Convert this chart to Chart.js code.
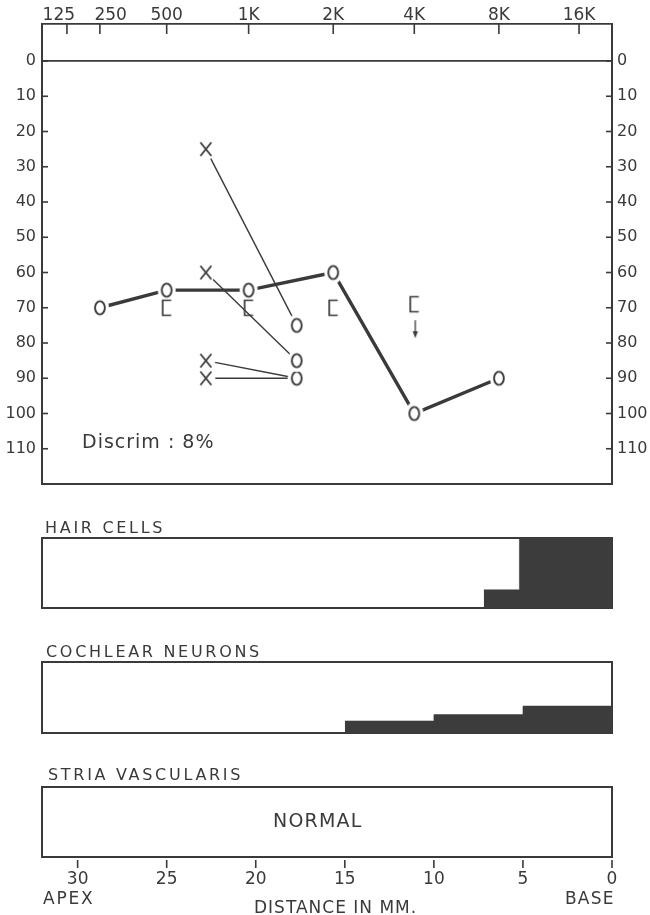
<!DOCTYPE html>
<html><head><meta charset="utf-8">
<script src="https://cdn.jsdelivr.net/npm/chart.js@4.4.1/dist/chart.umd.min.js"></script>
<style>
html,body{margin:0;padding:0;background:#fff;}
#wrap{position:relative;width:650px;height:915px;overflow:hidden;background:#fff;}
canvas{position:absolute;left:0;}
</style></head><body>
<div id="wrap">
<canvas id="audio" style="top:0px" width="650" height="500"></canvas>
<canvas id="hair" style="top:508px" width="650" height="104"></canvas>
<canvas id="neuron" style="top:632px" width="650" height="104"></canvas>
<canvas id="stria" style="top:757px" width="650" height="158"></canvas>
</div>
<script>
// ---------------- data ----------------
const freqLabels   = ['125','250','500','1K','2K','4K','8K','16K'];
const freqPlaceMM  = [30.6, 28.75, 25.0, 20.4, 15.65, 11.1, 6.35, 1.85]; // cochlear place (mm from base) of each frequency tick
const dbTicks      = [0,10,20,30,40,50,60,70,80,90,100,110];

const airFreqs     = ['250','500','1K','2K','4K','8K'];
const airDB        = [70, 65, 65, 60, 100, 90];
const boneFreqs    = ['500','1K','2K'];
const boneDB       = [70, 70, 70];
const boneNRFreqs  = ['4K'];
const boneNRDB     = [69];

const balanceRefPlaceMM  = 22.8;   // X column
const balanceTestPlaceMM = 17.7;   // O column
const balanceRefDB  = [25, 60, 85, 90];
const balanceTestDB = [75, 85, 90, 90];
const discrimText   = 'Discrim : 8%';

const distTicks     = [30, 25, 20, 15, 10, 5, 0];
const hairFromMM    = [7.2, 5.2];
const hairToMM      = [5.2, 0];
const hairLossPct   = [26, 100];
const neuronFromMM  = [15, 10, 5];
const neuronToMM    = [10, 5, 0];
const neuronLossPct = [17, 26, 38];
const striaText     = 'NORMAL';

// ---------------- style ----------------
const INK = '#3a3a3a';
const FILL = '#3c3c3c';
const FONT = 'DejaVu Sans';
// crowded low-frequency labels are nudged apart (leading/trailing spaces), as in the original
const freqLabelPad = {'125':['', '   '], '250':['    ', '']};

const place = f => freqPlaceMM[freqLabels.indexOf(f)];

function mk(w,h){const c=document.createElement('canvas');c.width=w;c.height=h;return c;}
function oMarker(){
  const c=mk(22,26),g=c.getContext('2d');
  g.fillStyle='#fff';g.beginPath();g.ellipse(11,13,9,11.2,0,0,Math.PI*2);g.fill();
  g.strokeStyle=INK;g.lineWidth=1.9;g.beginPath();g.ellipse(11,13,4.9,6.6,0,0,Math.PI*2);g.stroke();
  return c;
}
function xMarker(){
  const c=mk(24,26),g=c.getContext('2d');
  g.fillStyle='#fff';g.beginPath();g.ellipse(12,13,9.5,11,0,0,Math.PI*2);g.fill();
  g.strokeStyle=INK;g.lineWidth=1.8;g.beginPath();
  g.moveTo(6.5,6.2);g.lineTo(17.5,19.8);g.moveTo(17.5,6.2);g.lineTo(6.5,19.8);g.stroke();
  return c;
}
function bracketMarker(arrow){
  const h=arrow?76:20,c=mk(14,h),g=c.getContext('2d'),cy=h/2;
  g.strokeStyle=INK;g.lineWidth=1.7;g.beginPath();
  g.moveTo(11.5,cy-7.5);g.lineTo(3,cy-7.5);g.lineTo(3,cy+7.5);g.lineTo(11.5,cy+7.5);g.stroke();
  if(arrow){
    g.lineWidth=1.3;g.beginPath();g.moveTo(8,cy+16);g.lineTo(8,cy+29);g.stroke();
    g.fillStyle=INK;g.beginPath();g.moveTo(5.4,cy+27);g.lineTo(10.6,cy+27);g.lineTo(8,cy+34);g.closePath();g.fill();
  }
  return c;
}
const oImg=oMarker(), xImg=xMarker(), brImg=bracketMarker(false), brArrowImg=bracketMarker(true);

function line(ctx,x1,y1,x2,y2){ctx.beginPath();ctx.moveTo(x1,y1);ctx.lineTo(x2,y2);ctx.stroke();}
function txt(ctx,s,x,y,size,ls,align){
  ctx.save();ctx.font=size+'px "'+FONT+'"';ctx.fillStyle=INK;ctx.textBaseline='alphabetic';
  ctx.textAlign=align||'left';try{ctx.letterSpacing=(ls||0)+'px';}catch(e){}
  ctx.fillText(s,x,y);ctx.restore();
}

// ---------------- audiogram ----------------
const audioDecor = {
  id:'audioDecor',
  afterDraw(chart){
    const {ctx, chartArea:a, scales} = chart;
    ctx.save();ctx.strokeStyle=INK;ctx.lineWidth=1.6;
    scales.x.ticks.forEach(t=>{const px=scales.x.getPixelForValue(t.value);line(ctx,px,a.top,px,a.top+10);});
    scales.y.ticks.forEach(t=>{const py=scales.y.getPixelForValue(t.value);line(ctx,a.left,py,a.left+6,py);line(ctx,a.right-6,py,a.right,py);});
    ctx.restore();
    txt(ctx, discrimText, a.left+40, a.top+424, 19, 1);
  }
};

const audioDatasets = [
  {label:'bone', data: boneFreqs.map((f,i)=>({x:place(f),y:boneDB[i]})), showLine:false,
   pointStyle: brImg, pointRadius:3, order:1, borderColor:INK, backgroundColor:INK},
  {label:'boneNR', data: boneNRFreqs.map((f,i)=>({x:place(f),y:boneNRDB[i]})), showLine:false,
   pointStyle: brArrowImg, pointRadius:3, order:1, borderColor:INK, backgroundColor:INK},
  {label:'air', data: airFreqs.map((f,i)=>({x:place(f),y:airDB[i]})), borderColor:INK, borderWidth:3.4,
   backgroundColor:INK, pointStyle:oImg, pointRadius:3, tension:0, order:2}
].concat(balanceRefDB.map((d,i)=>({
  label:'balance'+i,
  data:[{x:balanceRefPlaceMM,y:d},{x:balanceTestPlaceMM,y:balanceTestDB[i]}],
  borderColor:INK, borderWidth:1.4, backgroundColor:INK, tension:0, pointRadius:3,
  pointStyle: c => c.dataIndex===0 ? xImg : oImg, order:3
})));

new Chart(document.getElementById('audio'), {
  type:'line',
  data:{datasets: audioDatasets},
  options:{
    responsive:false, animation:false, events:[],
    layout:{padding:0},
    plugins:{legend:{display:false}, tooltip:{enabled:false}, title:{display:false}},
    scales:{
      x:{type:'linear', position:'top', min:0, max:32, reverse:true,
         afterBuildTicks:s=>{s.ticks=freqPlaceMM.map(v=>({value:v}));},
         ticks:{autoSkip:false, maxRotation:0, minRotation:0, padding:-2, color:INK,
                font:{family:FONT,size:17},
                callback:(v,i)=>{const l=freqLabels[i],p=freqLabelPad[l]||['',''];return p[0]+l+p[1];}},
         grid:{drawOnChartArea:false, drawTicks:false},
         border:{display:true, color:INK, width:1.8},
         afterFit:s=>{s.height=24;}},
      x2:{type:'linear', position:'bottom', min:0, max:32, reverse:true,
         ticks:{display:false}, grid:{display:false},
         border:{display:true, color:INK, width:2},
         afterFit:s=>{s.height=16;}},
      y:{type:'linear', position:'left', min:-10.5, max:120, reverse:true,
         afterBuildTicks:s=>{s.ticks=dbTicks.map(v=>({value:v}));},
         ticks:{padding:6, color:INK, font:{family:FONT,size:16}},
         grid:{drawTicks:false, lineWidth:1.8, color:c=>(c.tick && c.tick.value===0)?INK:'rgba(0,0,0,0)'},
         border:{display:true, color:INK, width:2},
         afterFit:s=>{s.width=42;}},
      y2:{type:'linear', position:'right', min:-10.5, max:120, reverse:true,
         afterBuildTicks:s=>{s.ticks=dbTicks.map(v=>({value:v}));},
         ticks:{padding:5, color:INK, font:{family:FONT,size:16}},
         grid:{drawOnChartArea:false, drawTicks:false},
         border:{display:true, color:INK, width:2},
         afterFit:s=>{s.width=38;}}
    }
  },
  plugins:[audioDecor]
});

// ---------------- pathology panels ----------------
function segPoints(from,to,loss){
  const pts=[];from.forEach((f,i)=>{pts.push({x:f,y:loss[i]});pts.push({x:to[i],y:loss[i]});});return pts;
}
function panel(id, title, titleX, titleGap, datasets, bottomH, withAxis, extra){
  const decor={
    id:'decor'+id,
    afterDraw(chart){
      const {ctx, chartArea:a, scales}=chart;
      txt(ctx, title, titleX, a.top-titleGap, 16, 2.7);
      if(withAxis){
        ctx.save();ctx.strokeStyle=INK;ctx.lineWidth=1.6;
        distTicks.forEach(v=>{const px=scales.x.getPixelForValue(v);line(ctx,px,a.bottom+3,px,a.bottom+11);});
        ctx.restore();
      }
      if(extra) extra(ctx,a);
    }
  };
  const bord={display:true,color:INK,width:2};
  return new Chart(document.getElementById(id),{
    type:'line',
    data:{datasets},
    options:{
      responsive:false, animation:false, events:[],
      layout:{padding:{top:30,left:0,right:0,bottom:0}},
      plugins:{legend:{display:false}, tooltip:{enabled:false}},
      scales:{
        x:{type:'linear', position:'bottom', min:0, max:32, reverse:true,
           afterBuildTicks:s=>{s.ticks=distTicks.map(v=>({value:v}));},
           ticks:{display:withAxis, autoSkip:false, maxRotation:0, padding:4, color:INK,
                  font:{family:FONT,size:17}},
           grid:{display:false}, border:bord,
           afterFit:s=>{s.height=bottomH;}},
        xt:{type:'linear', position:'top', min:0, max:32, reverse:true,
           ticks:{display:false}, grid:{display:false}, border:bord, afterFit:s=>{s.height=0;}},
        y:{type:'linear', position:'left', min:0, max:100,
           ticks:{display:false}, grid:{display:false}, border:bord, afterFit:s=>{s.width=42;}},
        y2:{type:'linear', position:'right', min:0, max:100,
           ticks:{display:false}, grid:{display:false}, border:bord, afterFit:s=>{s.width=38;}}
      }
    },
    plugins:[decor]
  });
}
const fillDs = pts => ({data:pts, fill:'origin', backgroundColor:FILL, borderColor:FILL, borderWidth:0.5, pointRadius:0, tension:0});

panel('hair', 'HAIR CELLS', 45, 5, [fillDs(segPoints(hairFromMM,hairToMM,hairLossPct))], 4, false);
panel('neuron', 'COCHLEAR NEURONS', 46, 5, [fillDs(segPoints(neuronFromMM,neuronToMM,neuronLossPct))], 3, false);
panel('stria', 'STRIA VASCULARIS', 48, 7, [], 58, true, (ctx,a)=>{
  txt(ctx, striaText, 273, a.top+40, 19, 1.2);
  txt(ctx, 'APEX', 43, a.bottom+47, 17, 1.8);
  txt(ctx, 'BASE', 565, a.bottom+47, 17, 1.2);
  txt(ctx, 'DISTANCE IN MM.', 254, a.bottom+56, 17, 1);
});
</script>
</body></html>
